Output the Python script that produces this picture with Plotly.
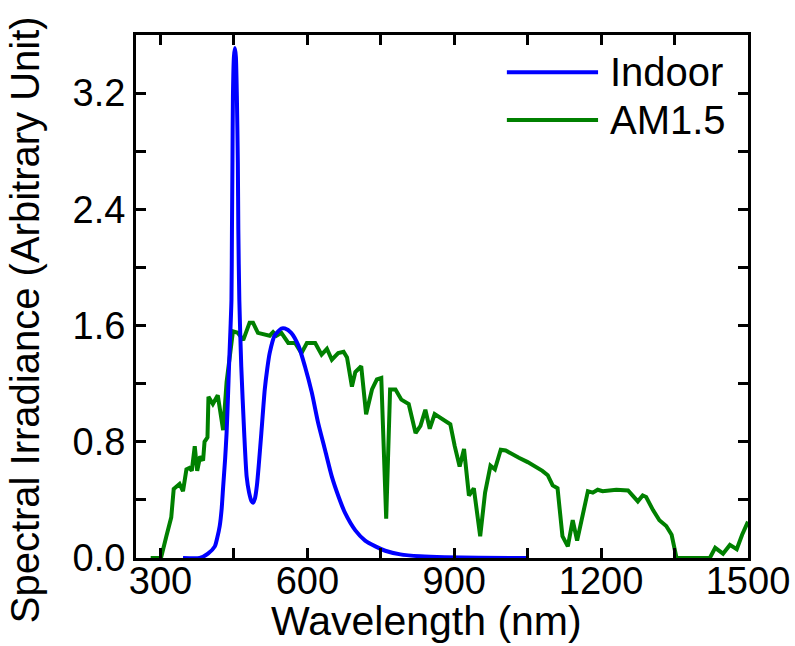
import plotly.graph_objects as go

# Indoor light source spectrum (wavelength nm, arbitrary unit)
indoor_wl = [346, 380, 397, 411, 416, 421, 425, 428, 432, 435, 438, 440, 443, 445,
             446, 447, 448, 450, 452, 454, 456, 458, 459, 461, 465, 471, 476, 481,
             486, 489, 493, 497, 501, 506, 513, 518, 523, 533, 547, 554, 567, 582,
             595, 609, 622, 636, 650, 664, 677, 698, 718, 739, 759, 790, 830, 880,
             950, 1050]
indoor_val = [0.0, 0.0, 0.03, 0.08, 0.14, 0.22, 0.34, 0.49, 0.68, 0.86, 1.12, 1.32, 1.58, 1.78,
              2.26, 2.72, 3.18, 3.45, 3.51, 3.45, 3.18, 2.72, 2.26, 1.78, 1.32, 0.86, 0.56, 0.45,
              0.39, 0.38, 0.41, 0.50, 0.65, 0.86, 1.16, 1.30, 1.41, 1.53, 1.58, 1.58, 1.55, 1.46,
              1.32, 1.14, 0.93, 0.745, 0.56, 0.42, 0.31, 0.19, 0.12, 0.08, 0.05, 0.025, 0.012, 0.005,
              0.002, 0.0]

# AM1.5 solar spectrum
am_wl = [280, 301, 312, 322, 327, 339, 346, 353, 359, 364, 370, 375, 381, 387, 390, 396,
         398, 407, 417, 428, 435, 448, 458, 469, 482, 489, 499, 510, 523, 530, 537, 547,
         554, 561, 575, 588, 599, 616, 629, 640, 650, 663, 674, 681, 691, 698, 710, 720,
         732, 742, 751, 761, 769, 780, 792, 807, 821, 831, 841, 850, 860, 875, 892, 901,
         911, 920, 930, 940, 953, 963, 974, 983, 995, 1005, 1019, 1032, 1050, 1067, 1080,
         1091, 1101, 1111, 1121, 1132, 1142, 1151, 1173, 1183, 1193, 1203, 1231, 1255, 1265,
         1275, 1285, 1292, 1306, 1319, 1333, 1344, 1354, 1422, 1433, 1449, 1463, 1477, 1488,
         1500]
am_val = [0.0, 0.0, 0.15, 0.28, 0.475, 0.51, 0.46, 0.61, 0.62, 0.60, 0.77, 0.60, 0.70, 0.67, 0.80, 0.83,
          1.11, 1.06, 1.12, 0.88, 1.21, 1.56, 1.55, 1.50, 1.62, 1.62, 1.55, 1.54, 1.53, 1.555, 1.53, 1.55,
          1.52, 1.48, 1.48, 1.41, 1.48, 1.48, 1.40, 1.44, 1.365, 1.41, 1.42, 1.38, 1.18, 1.28, 1.32, 0.99,
          1.16, 1.23, 1.24, 0.27, 1.16, 1.16, 1.09, 1.06, 0.86, 0.91, 1.02, 0.89, 0.99, 0.96, 0.92, 0.77,
          0.63, 0.75, 0.43, 0.48, 0.15, 0.45, 0.635, 0.61, 0.745, 0.74, 0.71, 0.69, 0.66, 0.63, 0.60,
          0.57, 0.50, 0.48, 0.15, 0.08, 0.26, 0.12, 0.46, 0.45, 0.47, 0.46, 0.47, 0.465, 0.43,
          0.39, 0.43, 0.42, 0.33, 0.26, 0.22, 0.16, 0.0, 0.0, 0.07, 0.03, 0.09, 0.06, 0.16,
          0.25]

x_tickvals = [300, 450, 600, 750, 900, 1050, 1200, 1350, 1500]
x_ticktext = ["300", "", "600", "", "900", "", "1200", "", "1500"]
y_tickvals = [0.0, 0.4, 0.8, 1.2, 1.6, 2.0, 2.4, 2.8, 3.2]
y_ticktext = ["0.0", "", "0.8", "", "1.6", "", "2.4", "", "3.2"]

series_names = ["Indoor", "AM1.5"]
series_colors = ["#0000FF", "#008000"]

FONT = "Liberation Sans, Arial, sans-serif"

fig = go.Figure()
fig.add_trace(go.Scatter(x=am_wl, y=am_val, mode="lines", name=series_names[1],
                         line=dict(color=series_colors[1], width=4), showlegend=False))
fig.add_trace(go.Scatter(x=indoor_wl, y=indoor_val, mode="lines", name=series_names[0],
                         line=dict(color=series_colors[0], width=4, shape="spline", smoothing=0.6),
                         showlegend=False))

axis_common = dict(showgrid=False, zeroline=False, showline=True, linecolor="black",
                   linewidth=3, mirror="ticks", ticks="inside", ticklen=10, tickwidth=3,
                   tickcolor="black", automargin=False,
                   tickfont=dict(family=FONT, size=38, color="black"))

fig.update_xaxes(range=[250, 1500], tickvals=x_tickvals, ticktext=x_ticktext,
                 ticklabelstandoff=-13, **axis_common)
fig.update_yaxes(range=[0, 3.6], tickvals=y_tickvals, ticktext=y_ticktext, **axis_common)

# Manual legend (long line samples)
legend_y = [0.929, 0.8375]
for name, color, ly in zip(series_names, series_colors, legend_y):
    fig.add_shape(type="line", xref="paper", yref="paper", x0=0.606, x1=0.755, y0=ly, y1=ly,
                  line=dict(color=color, width=4))
    fig.add_annotation(xref="paper", yref="paper", x=0.772, y=ly, text=name, showarrow=False,
                       xanchor="left", yanchor="middle",
                       font=dict(family=FONT, size=40, color="black"))

# Axis titles
fig.add_annotation(xref="paper", yref="paper", x=0.474, y=-0.120, text="Wavelength (nm)",
                   showarrow=False, xanchor="center", yanchor="middle",
                   font=dict(family=FONT, size=41, color="black"))
fig.add_annotation(xref="paper", yref="paper", x=-0.181, y=0.455,
                   text="Spectral Irradiance (Arbitrary Unit)", textangle=-90,
                   showarrow=False, xanchor="center", yanchor="middle",
                   font=dict(family=FONT, size=40, color="black"))

fig.update_layout(width=795, height=646, margin=dict(l=136, r=47, t=35, b=88),
                  plot_bgcolor="white", paper_bgcolor="white")

fig.write_html("out.html")
